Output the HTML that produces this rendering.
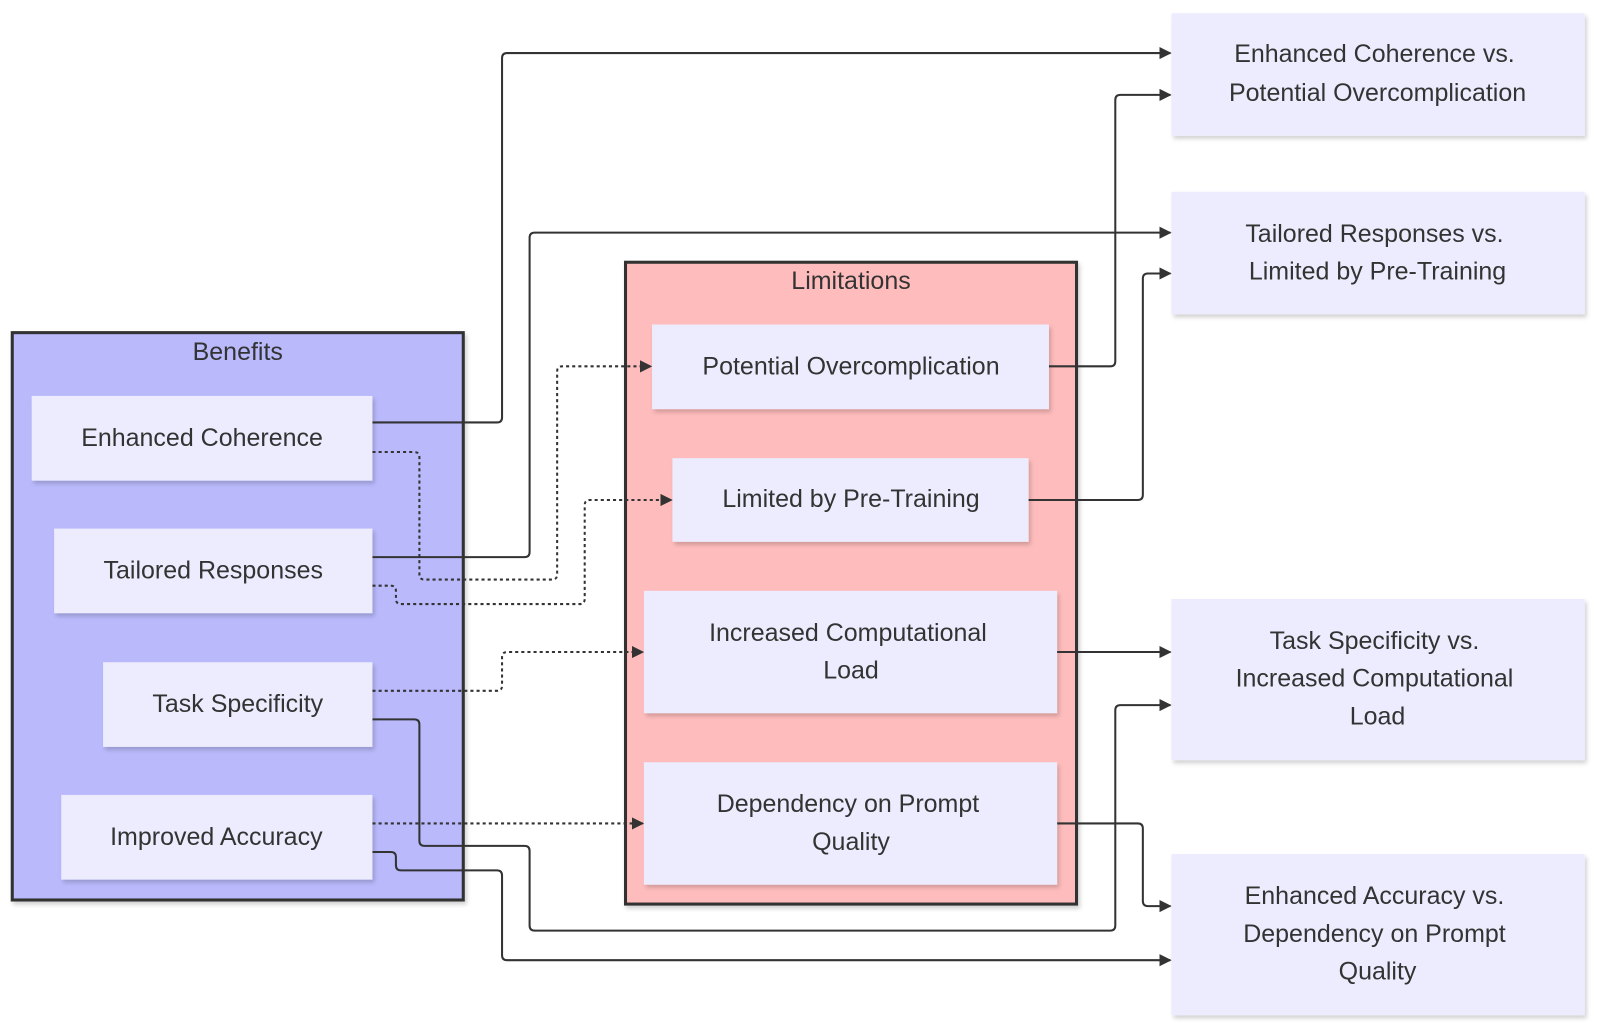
<!DOCTYPE html>
<html><head><meta charset="utf-8"><style>
html,body{margin:0;padding:0;background:#fff;width:1600px;height:1031px;overflow:hidden}
text{font-family:"Liberation Sans",Arial,sans-serif;font-size:24.5px;fill:#333;text-anchor:middle}
.n{fill:#ececfe}
.e{fill:none;stroke:#333;stroke-width:2;stroke-linejoin:round}
.d{fill:none;stroke:#333;stroke-width:2;stroke-dasharray:3 3;stroke-linejoin:round}
</style></head><body>
<svg width="1600" height="1031" viewBox="0 0 1568 1010.4" xmlns="http://www.w3.org/2000/svg">
<defs>
<marker id="a" viewBox="0 0 10 10" refX="9" refY="5" markerWidth="6" markerHeight="6" orient="auto"><path d="M0,0L10,5L0,10z" fill="#333"/></marker>
<filter id="s" x="-5%" y="-5%" width="112%" height="120%"><feDropShadow dx="2" dy="3" stdDeviation="2" flood-color="#000" flood-opacity="0.18"/></filter>
</defs>
<rect x="12" y="326" width="442" height="556" fill="#b9b9fc" stroke="#333" stroke-width="3" filter="url(#s)"/>
<text x="233" y="353">Benefits</text>
<rect x="613" y="257" width="442" height="629" fill="#ffbcbc" stroke="#333" stroke-width="3" filter="url(#s)"/>
<text x="834" y="283">Limitations</text>

<g filter="url(#s)">
<rect class="n" x="31" y="388" width="334" height="83"/>
<rect class="n" x="53" y="518" width="312" height="83"/>
<rect class="n" x="101" y="649" width="264" height="83"/>
<rect class="n" x="60" y="779" width="305" height="83"/>
<rect class="n" x="639" y="318" width="389" height="83"/>
<rect class="n" x="659" y="449" width="349" height="82"/>
<rect class="n" x="631" y="579" width="405" height="120"/>
<rect class="n" x="631" y="747" width="405" height="120"/>
<rect class="n" x="1148" y="13" width="405" height="120"/>
<rect class="n" x="1148" y="188" width="405" height="120"/>
<rect class="n" x="1148" y="587" width="405" height="158"/>
<rect class="n" x="1148" y="837" width="405" height="158"/>
</g>

<text x="198" y="437">Enhanced Coherence</text>
<text x="209" y="567">Tailored Responses</text>
<text x="233" y="698">Task Specificity</text>
<text x="212" y="828">Improved Accuracy</text>
<text x="834" y="367">Potential Overcomplication</text>
<text x="834" y="497">Limited by Pre-Training</text>
<text x="831" y="628">Increased Computational</text>
<text x="834" y="665">Load</text>
<text x="831" y="796">Dependency on Prompt</text>
<text x="834" y="833">Quality</text>
<text x="1347" y="61">Enhanced Coherence vs.</text>
<text x="1350" y="99">Potential Overcomplication</text>
<text x="1347" y="237">Tailored Responses vs.</text>
<text x="1350" y="274">Limited by Pre-Training</text>
<text x="1347" y="636">Task Specificity vs.</text>
<text x="1347" y="673">Increased Computational</text>
<text x="1350" y="710">Load</text>
<text x="1347" y="886">Enhanced Accuracy vs.</text>
<text x="1347" y="923">Dependency on Prompt</text>
<text x="1350" y="960">Quality</text>

<path class="e" marker-end="url(#a)" d="M365,414H487Q492,414 492,409V57Q492,52 497,52H1147"/>
<path class="e" marker-end="url(#a)" d="M365,546H514Q519,546 519,541V233Q519,228 524,228H1147"/>
<path class="e" marker-end="url(#a)" d="M1028,359H1088Q1093,359 1093,354V98Q1093,93 1098,93H1147"/>
<path class="e" marker-end="url(#a)" d="M1008,490H1115Q1120,490 1120,485V273Q1120,268 1125,268H1147"/>
<path class="e" marker-end="url(#a)" d="M1036,639H1147"/>
<path class="e" marker-end="url(#a)" d="M365,705H406Q411,705 411,710V824Q411,829 416,829H514Q519,829 519,834V907Q519,912 524,912H1088Q1093,912 1093,907V696Q1093,691 1098,691H1147"/>
<path class="e" marker-end="url(#a)" d="M365,835H383Q388,835 388,840V848Q388,853 393,853H487Q492,853 492,858V936Q492,941 497,941H1147"/>
<path class="e" marker-end="url(#a)" d="M1036,807H1115Q1120,807 1120,812V883Q1120,888 1125,888H1147"/>

<path class="d" marker-end="url(#a)" d="M365,443H406Q411,443 411,448V563Q411,568 416,568H541Q546,568 546,563V364Q546,359 551,359H638"/>
<path class="d" marker-end="url(#a)" d="M365,574H383Q388,574 388,579V587Q388,592 393,592H568Q573,592 573,587V495Q573,490 578,490H658"/>
<path class="d" marker-end="url(#a)" d="M365,677H487Q492,677 492,672V644Q492,639 497,639H630"/>
<path class="d" marker-end="url(#a)" d="M365,807H630"/>
</svg>
</body></html>
